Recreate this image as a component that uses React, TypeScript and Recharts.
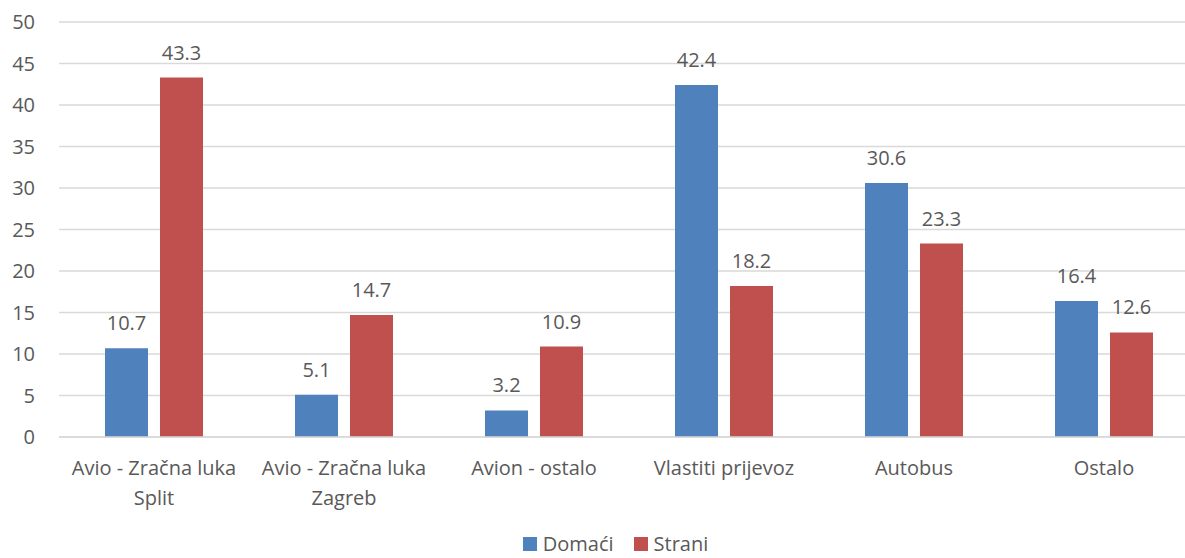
import { BarChart, Bar, XAxis, YAxis, CartesianGrid, LabelList, Legend } from "recharts";

const categories = [
  "Avio - Zračna luka Split",
  "Avio - Zračna luka Zagreb",
  "Avion - ostalo",
  "Vlastiti prijevoz",
  "Autobus",
  "Ostalo",
];
const domaci = [10.7, 5.1, 3.2, 42.4, 30.6, 16.4];
const strani = [43.3, 14.7, 10.9, 18.2, 23.3, 12.6];
const yTicks = [0, 5, 10, 15, 20, 25, 30, 35, 40, 45, 50];

const series = [
  { key: "Domaći", color: "#4F81BD" },
  { key: "Strani", color: "#C0504D" },
];

const data = categories.map((name, i) => ({
  name,
  "Domaći": domaci[i],
  Strani: strani[i],
}));

const FONT = "'Open Sans', sans-serif";
const TEXT = "#595959";
const GRID = "#D9D9D9";

function CategoryTick({ x, y, payload }: any) {
  const label: string = payload.value;
  const cut = label.lastIndexOf(" ");
  const lines = label.length > 18 ? [label.slice(0, cut), label.slice(cut + 1)] : [label];
  return (
    <text x={x} y={y} textAnchor="middle" fill={TEXT} fontSize={20} fontFamily={FONT}>
      {lines.map((line, i) => (
        <tspan key={i} x={x} dy={i === 0 ? 38 : 30}>
          {line}
        </tspan>
      ))}
    </text>
  );
}

function ValueTick({ x, y, payload }: any) {
  return (
    <text x={x - 24} y={y} dy={7} textAnchor="end" fill={TEXT} fontSize={20} fontFamily={FONT}>
      {payload.value}
    </text>
  );
}

const renderLegend = () => (
  <div
    style={{
      height: 34,
      boxSizing: "border-box",
      paddingTop: 8,
      paddingBottom: 2,
      display: "flex",
      justifyContent: "center",
      alignItems: "center",
      gap: 20,
      fontFamily: FONT,
      fontSize: 20,
      lineHeight: "24px",
      color: TEXT,
    }}
  >
    {series.map((s) => (
      <span key={s.key} style={{ display: "flex", alignItems: "center" }}>
        <span style={{ width: 14, height: 14, background: s.color, marginRight: 6 }} />
        {s.key}
      </span>
    ))}
  </div>
);

export default function App() {
  return (
    <div
      style={{
        position: "absolute",
        left: 0,
        top: 0,
        width: 1185,
        height: 558,
        overflow: "hidden",
        background: "#fff",
      }}
    >
      <BarChart
        width={1200}
        height={558}
        data={data}
        margin={{ top: 22, right: 1, left: 0, bottom: 0 }}
        barGap={12}
      >
        <CartesianGrid vertical={false} stroke={GRID} strokeWidth={1.3} />
        <XAxis
          dataKey="name"
          height={87}
          tickLine={false}
          tickSize={0}
          tickMargin={0}
          axisLine={{ stroke: GRID, strokeWidth: 1.3 }}
          tick={<CategoryTick />}
          interval={0}
        />
        <YAxis
          width={59}
          domain={[0, 50]}
          ticks={yTicks}
          tickLine={false}
          tickSize={0}
          tickMargin={0}
          axisLine={false}
          tick={<ValueTick />}
        />
        <Legend content={renderLegend} verticalAlign="bottom" wrapperStyle={{ left: 0, width: 1231 }} />
        {series.map((s) => (
          <Bar key={s.key} dataKey={s.key} fill={s.color} barSize={43} isAnimationActive={false}>
            <LabelList
              dataKey={s.key}
              position="top"
              offset={18}
              fill={TEXT}
              fontSize={20}
              fontFamily={FONT}
            />
          </Bar>
        ))}
      </BarChart>
    </div>
  );
}
